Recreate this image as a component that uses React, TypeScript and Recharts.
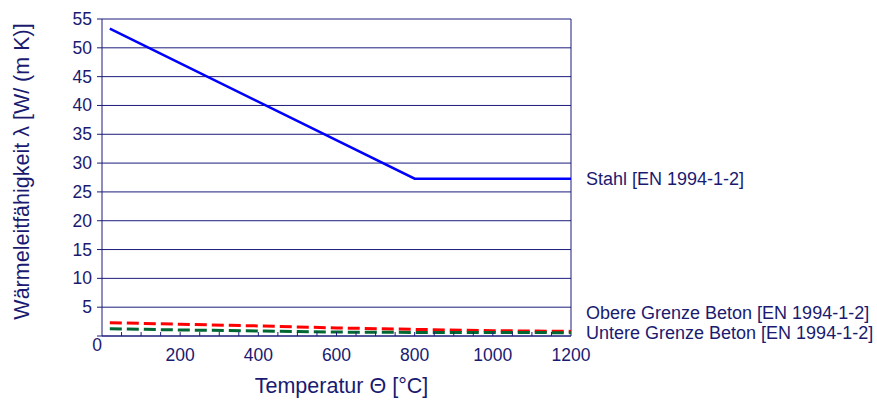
import React from 'react';
import {
  LineChart,
  Line,
  XAxis,
  YAxis,
  CartesianGrid,
  ReferenceLine,
  Label,
} from 'recharts';

const NAVY = '#1c1c7c';
const TEXT = '#1a1a70';
const FONT = '"Liberation Sans", Arial, sans-serif';

// Stahl: linear drop up to 800 °C, then constant
const steelTemps = [20, 800, 1200];
const steelValues = [53.33, 27.3, 27.3];

// Beton, obere / untere Grenze
const concreteTemps = [20, 200, 400, 600, 800, 1000, 1200];
const upperValues = [2.3, 2.05, 1.75, 1.4, 1.15, 0.92, 0.8];
const lowerValues = [1.25, 1.05, 0.87, 0.68, 0.62, 0.6, 0.58];

const xTicks = [
  0, 50, 100, 150, 200, 250, 300, 350, 400, 450, 500, 550, 600, 650, 700, 750,
  800, 850, 900, 950, 1000, 1050, 1100, 1150, 1200,
];
const xLabels = [200, 400, 600, 800, 1000, 1200];
const yTicks = [0, 5, 10, 15, 20, 25, 30, 35, 40, 45, 50, 55];

const seriesLabels = {
  steel: 'Stahl [EN 1994-1-2]',
  upper: 'Obere Grenze Beton [EN 1994-1-2]',
  lower: 'Untere Grenze Beton [EN 1994-1-2]',
};

const toRows = (temps: number[], values: number[]) =>
  temps.map((t, i) => ({ t, v: values[i] }));

const steelData = toRows(steelTemps, steelValues);
const upperData = toRows(concreteTemps, upperValues);
const lowerData = toRows(concreteTemps, lowerValues);

const XTick = (props: any) => {
  const { x, y, payload } = props;
  const v = payload.value;
  return (
    <g>
      {v > 0 && v < 1200 && (
        <line x1={x} x2={x} y1={y} y2={y - 4} stroke={NAVY} strokeWidth={1} />
      )}
      {xLabels.includes(v) && (
        <text
          x={x}
          y={y + 19}
          textAnchor="middle"
          dominantBaseline="central"
          fill={TEXT}
          fontSize={17.5}
          fontFamily={FONT}
        >
          {v}
        </text>
      )}
    </g>
  );
};

const YTick = (props: any) => {
  const { x, y, payload } = props;
  const v = payload.value;
  if (v === 0) {
    return (
      <text
        x={x + 5}
        y={y + 9}
        textAnchor="middle"
        dominantBaseline="central"
        fill={TEXT}
        fontSize={17.5}
        fontFamily={FONT}
      >
        0
      </text>
    );
  }
  return (
    <text
      x={x}
      y={y}
      textAnchor="end"
      dominantBaseline="central"
      fill={TEXT}
      fontSize={17.5}
      fontFamily={FONT}
    >
      {v}
    </text>
  );
};

// rotated y-axis title, sitting a little above the plot's middle
const YTitle = (props: any) => {
  const { viewBox } = props;
  const cx = viewBox.x + 22;
  const cy = viewBox.y + viewBox.height / 2 - 6;
  return (
    <text
      transform={`translate(${cx},${cy}) rotate(-90)`}
      textAnchor="middle"
      dominantBaseline="central"
      fill={TEXT}
      fontSize={21.5}
      fontFamily={FONT}
    >
      Wärmeleitfähigkeit λ [W/ (m K)]
    </text>
  );
};

// text at the right end of a series
const endLabel = (text: string, last: number, dy: number) => (props: any) => {
  if (props.index !== last) return <g />;
  return (
    <text
      x={props.x + 15}
      y={props.y + dy}
      dominantBaseline="central"
      fill={TEXT}
      fontSize={18}
      fontFamily={FONT}
    >
      {text}
    </text>
  );
};

export default function App() {
  return (
    <div style={{ position: 'absolute', left: 0, top: 0, background: '#fff' }}>
      <LineChart
        width={877}
        height={401}
        margin={{ top: 19, right: 306, bottom: 25, left: 0 }}
      >
        <CartesianGrid
          horizontal
          vertical={false}
          stroke={NAVY}
          strokeWidth={1}
        />
        <XAxis
          type="number"
          dataKey="t"
          domain={[0, 1200]}
          ticks={xTicks}
          interval={0}
          height={40}
          stroke={NAVY}
          tickLine={false}
          tickSize={0}
          tickMargin={0}
          tick={<XTick />}
        >
          <Label
            value="Temperatur Θ [°C]"
            position="insideBottom"
            offset={-17}
            dx={5}
            fill={TEXT}
            fontSize={21.5}
            fontFamily={FONT}
          />
        </XAxis>
        <YAxis
          type="number"
          domain={[0, 55]}
          ticks={yTicks}
          interval={0}
          width={102}
          stroke={NAVY}
          tickSize={5}
          tickMargin={5}
          tick={<YTick />}
        >
          <Label content={<YTitle />} />
        </YAxis>
        <ReferenceLine x={1200} stroke={NAVY} strokeWidth={1} />
        <Line
          data={steelData}
          dataKey="v"
          type="linear"
          stroke="#0000ff"
          strokeWidth={2.5}
          dot={false}
          isAnimationActive={false}
          label={endLabel(seriesLabels.steel, steelData.length - 1, 0)}
        />
        <Line
          data={upperData}
          dataKey="v"
          type="linear"
          stroke="#ff0000"
          strokeWidth={3}
          strokeDasharray="12 5"
          dot={false}
          isAnimationActive={false}
          label={endLabel(seriesLabels.upper, upperData.length - 1, -18)}
        />
        <Line
          data={lowerData}
          dataKey="v"
          type="linear"
          stroke="#006633"
          strokeWidth={3}
          strokeDasharray="12 5"
          dot={false}
          isAnimationActive={false}
          label={endLabel(seriesLabels.lower, lowerData.length - 1, 0)}
        />
      </LineChart>
    </div>
  );
}
